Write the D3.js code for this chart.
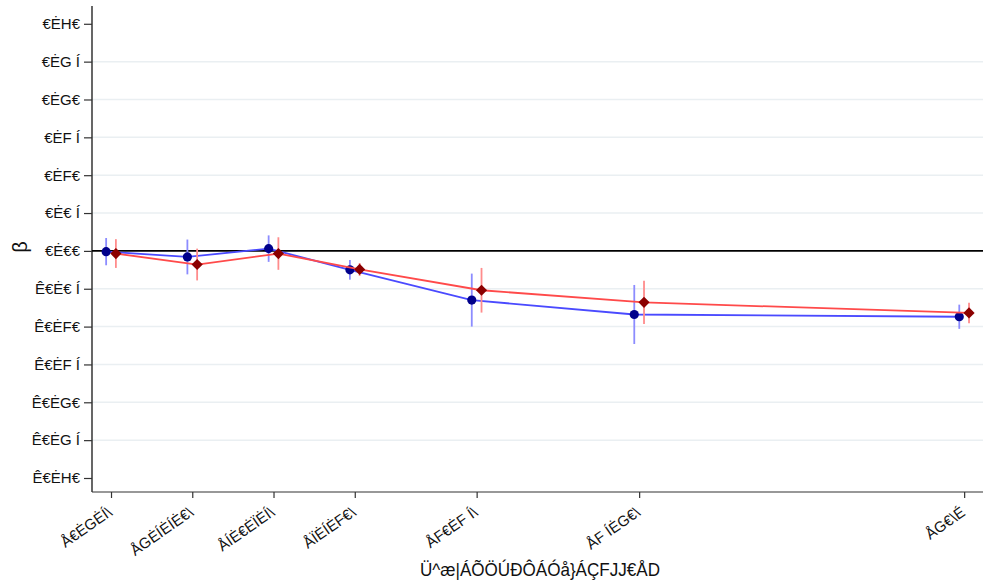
<!DOCTYPE html>
<html>
<head>
<meta charset="utf-8">
<script src="https://cdn.jsdelivr.net/npm/d3@7"></script>
<style>
  html, body { margin: 0; padding: 0; background: #fff; }
  svg { display: block; font-family: "Liberation Sans", Arial, sans-serif; }
</style>
</head>
<body>
<svg id="chart" width="983" height="581"></svg>
<script>
// Bin midpoints (x positions) and their labels
const binMid = [1.25, 3.75, 6.25, 8.75, 12.5, 17.5, 27.5];
const binLabels = ["Å€ĖGĖÍ\\", "ÅGĖÍĖÍĖ€\\", "ÅÍĖ€ĖÏĖÍ\\", "ÅÏĖÍĖF€\\", "ÅF€ĖF Í\\", "ÅF ÍĖG€\\", "ÅG€\\É"];

// Series A (navy circles): estimates and half-widths of intervals
const seriesA = [-0.001, -0.008, 0.003, -0.025, -0.065, -0.084, -0.087];
const seriesAErr = [0.018, 0.023, 0.0175, 0.013, 0.035, 0.039, 0.016];

// Series B (dark red diamonds)
const seriesB = [-0.0035, -0.018, -0.0035, -0.0245, -0.052, -0.068, -0.082];
const seriesBErr = [0.019, 0.021, 0.0215, 0.0085, 0.0295, 0.0285, 0.0135];

// Y ticks and labels
const yTicks = [-0.30, -0.25, -0.20, -0.15, -0.10, -0.05, 0.00, 0.05, 0.10, 0.15, 0.20, 0.25, 0.30];
const yTickLabels = ["Ê€ĖH€", "Ê€ĖG Í", "Ê€ĖG€", "Ê€ĖF Í", "Ê€ĖF€", "Ê€Ė€ Í", "€Ė€€",
                     "€Ė€ Í", "€ĖF€", "€ĖF Í", "€ĖG€", "€ĖG Í", "€ĖH€"];

const xTitle = "Ü^æ|ÁÕÖÚÐÔÁÓå}ÁÇFJJ€ÅD";
const yTitle = "β";

const svg = d3.select("#chart");
const plotL = 92, plotR = 983, plotT = 6, plotB = 492;

const x = d3.scaleLinear().domain([0.665, 28.08]).range([plotL, plotR]);
const y = d3.scaleLinear().domain([-0.3185, 0.3235]).range([plotB, plotT]);
const dodge = 0.15;

// Gridlines
svg.append("g").selectAll("line")
  .data(yTicks.filter(t => Math.abs(t) > 1e-9 && Math.abs(t) < 0.29))
  .join("line")
  .attr("x1", plotL).attr("x2", plotR)
  .attr("y1", d => y(d)).attr("y2", d => y(d))
  .attr("stroke", "#eaeff2").attr("stroke-width", 1.5);

// Zero reference line
svg.append("line")
  .attr("x1", plotL).attr("x2", plotR)
  .attr("y1", y(0)).attr("y2", y(0))
  .attr("stroke", "#000").attr("stroke-width", 1.6);

// Y axis
const yAxis = d3.axisLeft(y).tickValues(yTicks)
  .tickFormat((d, i) => yTickLabels[i]).tickSize(8).tickPadding(4);
const gy = svg.append("g").attr("transform", `translate(${plotL},0)`).call(yAxis);
gy.select(".domain").attr("d", `M0,${plotT}V${plotB}`).attr("stroke", "#000").attr("stroke-width", 1.2);
gy.selectAll(".tick line").attr("stroke", "#333").attr("stroke-width", 1.2);
gy.selectAll(".tick text").attr("font-size", 15).attr("fill", "#111");

// X axis
const xAxis = d3.axisBottom(x).tickValues(binMid)
  .tickFormat((d, i) => binLabels[i]).tickSize(6).tickPadding(2);
const gx = svg.append("g").attr("transform", `translate(0,${plotB})`).call(xAxis);
gx.select(".domain").attr("d", `M${plotL},0H${plotR}`).attr("stroke", "#333").attr("stroke-width", 1.2);
gx.selectAll(".tick line").attr("stroke", "#333").attr("stroke-width", 1.2);
gx.selectAll(".tick text")
  .attr("font-size", 15).attr("fill", "#111")
  .attr("text-anchor", "end")
  .attr("dy", null)
  .attr("transform", "translate(-3,16) rotate(-35)");

// Axis titles
svg.append("text").attr("x", 540).attr("y", 576)
  .attr("text-anchor", "middle").attr("font-size", 19)
  .attr("textLength", 240).attr("lengthAdjust", "spacingAndGlyphs")
  .attr("fill", "#111").text(xTitle);
svg.append("text").attr("transform", `translate(27,${y(0) - 4}) rotate(-90)`)
  .attr("text-anchor", "middle").attr("font-size", 20).attr("fill", "#111").text(yTitle);

function drawSeries(vals, errs, offset, lineColor, errColor, markColor, shape) {
  const g = svg.append("g");
  const pts = vals.map((v, i) => ({ x: binMid[i] + offset, v, e: errs[i] }));
  g.selectAll("line.err").data(pts).join("line").attr("class", "err")
    .attr("x1", d => x(d.x)).attr("x2", d => x(d.x))
    .attr("y1", d => y(d.v - d.e)).attr("y2", d => y(d.v + d.e))
    .attr("stroke", errColor).attr("stroke-width", 1.8);
  g.append("path").datum(pts)
    .attr("d", d3.line().x(d => x(d.x)).y(d => y(d.v)))
    .attr("fill", "none").attr("stroke", lineColor).attr("stroke-width", 1.8);
  g.selectAll("path.mk").data(pts).join("path").attr("class", "mk")
    .attr("transform", d => `translate(${x(d.x)},${y(d.v)})`)
    .attr("d", d3.symbol().type(shape).size(shape === d3.symbolCircle ? 66 : 80))
    .attr("fill", markColor);
}

drawSeries(seriesA, seriesAErr, -dodge, "#4a4aff", "#8c8cff", "#00008b", d3.symbolCircle);
drawSeries(seriesB, seriesBErr, dodge, "#ff4a4a", "#ff8c8c", "#8b0000", d3.symbolDiamond2);
</script>
</body>
</html>
